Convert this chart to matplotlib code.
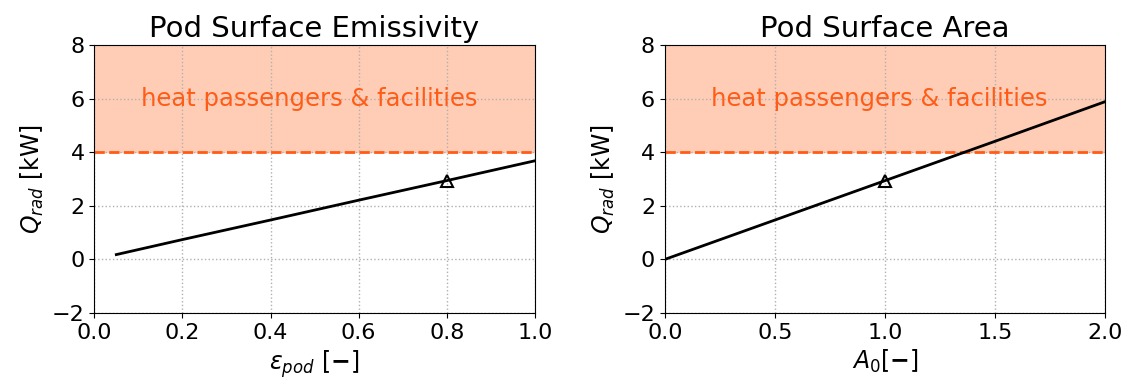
import matplotlib
matplotlib.use("Agg")
import matplotlib.pyplot as plt

eps_vals = [0.05, 0.2, 0.4, 0.6, 0.8, 1.0]
q_eps = [0.18, 0.74, 1.47, 2.21, 2.94, 3.68]
eps_marker = [0.8]
q_eps_marker = [2.94]

area_vals = [0.0, 0.5, 1.0, 1.5, 2.0]
q_area = [0.0, 1.47, 2.94, 4.41, 5.89]
area_marker = [1.0]
q_area_marker = [2.94]

threshold = 4.0
ymax = 8.0
label_text = "heat passengers & facilities"

fill_color = "#ffcdb5"
line_color = "#ff5c18"

fig, axes = plt.subplots(1, 2, figsize=(11.36, 3.85), dpi=100)

configs = [
    (axes[0], eps_vals, q_eps, eps_marker, q_eps_marker, "Pod Surface Emissivity",
     r"$\varepsilon_{pod}$ [$\mathbf{-}$]", (0.0, 1.0), [0.0, 0.2, 0.4, 0.6, 0.8, 1.0]),
    (axes[1], area_vals, q_area, area_marker, q_area_marker, "Pod Surface Area",
     r"$A_0$[$\mathbf{-}$]", (0.0, 2.0), [0.0, 0.5, 1.0, 1.5, 2.0]),
]

for ax, x, y, mx, my, title, xlabel, xlim, xticks in configs:
    ax.axhspan(threshold, ymax, color=fill_color, zorder=0)
    ax.axhline(threshold, color=line_color, linestyle="--", linewidth=2, zorder=2)
    ax.plot(x, y, color="black", linewidth=2, zorder=3)
    ax.plot(mx, my, marker="^", markersize=8, markerfacecolor="none",
            markeredgecolor="black", markeredgewidth=1.5, linestyle="none", zorder=4)
    ax.text(0.105, 0.8, label_text, color=line_color, fontsize=17.5, ha="left", va="center",
            transform=ax.transAxes)
    ax.set_xlim(*xlim)
    ax.set_ylim(-2, ymax)
    ax.set_xticks(xticks)
    ax.set_yticks([-2, 0, 2, 4, 6, 8])
    ax.set_yticklabels(["\u22122", "0", "2", "4", "6", "8"])
    ax.grid(True, linestyle=":", color="#b0b0b0", linewidth=1)
    ax.set_axisbelow(True)
    ax.set_title(title, fontsize=21)
    ax.set_xlabel(xlabel, fontsize=17)
    ax.set_ylabel(r"$Q_{rad}$ [kW]", fontsize=17)
    ax.tick_params(labelsize=16)

fig.subplots_adjust(left=0.083, right=0.973, bottom=0.187, top=0.883, wspace=0.295)
fig.savefig("out.png", dpi=100)
